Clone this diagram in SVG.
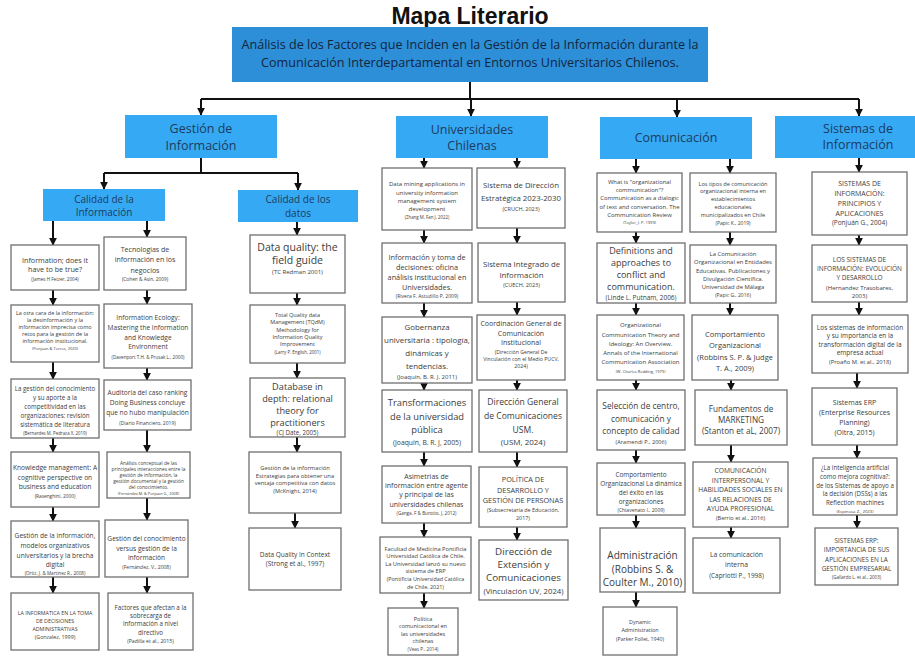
<svg xmlns="http://www.w3.org/2000/svg" width="915" height="656" viewBox="0 0 915 656">
<defs>
<style>
.box{fill:#fff;stroke:#6f6f6f;stroke-width:1.3}
.hdr{fill:#36a9f4}
.main{fill:#2c8fd8}
text{font-family:"Open Sans","Liberation Sans",sans-serif;text-anchor:middle;dominant-baseline:central;fill:#3c3c3c}
.ht{fill:#1d3b5e;font-size:12.5px}
.st{fill:#1d3b5e;font-size:10px}
.mt{fill:#14253d;font-size:12.6px}
.title{font-family:"Liberation Sans",Arial,sans-serif;font-weight:bold;font-size:23px;fill:#111}
#connectors path{fill:none;stroke:#111;stroke-width:2}
#connectors path.a{marker-end:url(#ah)}
</style>
<marker id="ah" viewBox="0 0 10 10" refX="9" refY="5" markerWidth="8" markerHeight="8" markerUnits="userSpaceOnUse" orient="auto"><path d="M0,0 L10,5 L0,10 z" fill="#111"/></marker>
</defs>
<rect width="915" height="656" fill="#fff"/>
<text class="title" x="470" y="16">Mapa Literario</text>

<g id="connectors">
<path d="M470,82 V99 M201,99 H859"/>
<path class="a" d="M201,99 V115"/>
<path class="a" d="M471,99 V116"/>
<path class="a" d="M677,99 V117"/>
<path class="a" d="M859,99 V116"/>
<path d="M201,158 V173 M104,173 H298"/>
<path class="a" d="M104,173 V189"/>
<path class="a" d="M298,173 V190"/>
<path class="a" d="M53,221 V245"/><path class="a" d="M53,290 V305"/><path class="a" d="M53,362 V379"/><path class="a" d="M53,438 V452"/><path class="a" d="M53,507 V521"/><path class="a" d="M53,577 V593"/>
<path class="a" d="M147,221 V237"/><path class="a" d="M147,290 V304"/><path class="a" d="M147,368 V380"/><path class="a" d="M147,430 V452"/><path class="a" d="M147,498 V520"/><path class="a" d="M147,577 V593"/>
<path class="a" d="M297,222 V235"/><path class="a" d="M297,293 V305"/><path class="a" d="M297,363 V378"/><path class="a" d="M297,437 V452"/><path class="a" d="M295,513 V528"/>
<path class="a" d="M424,158 V168"/><path class="a" d="M424,230 V243"/><path class="a" d="M424,303 V317"/><path class="a" d="M424,383 V390"/><path class="a" d="M424,452 V466"/><path class="a" d="M424,523 V537"/><path class="a" d="M424,593 V608"/>
<path class="a" d="M517,158 V168"/><path class="a" d="M517,228 V243"/><path class="a" d="M517,302 V315"/><path class="a" d="M517,380 V390"/><path class="a" d="M517,452 V467"/><path class="a" d="M517,527 V540"/>
<path class="a" d="M636,159 V173"/><path class="a" d="M636,232 V243"/><path class="a" d="M636,303 V315"/><path class="a" d="M636,380 V390"/><path class="a" d="M636,450 V463"/><path class="a" d="M636,515 V528"/><path class="a" d="M636,592 V607"/>
<path class="a" d="M730,159 V173"/><path class="a" d="M730,232 V245"/><path class="a" d="M730,303 V315"/><path class="a" d="M731,380 V390"/><path class="a" d="M731,445 V462"/><path class="a" d="M731,527 V538"/>
<path class="a" d="M859,158 V172"/><path class="a" d="M859,235 V245"/><path class="a" d="M859,302 V315"/><path class="a" d="M857,373 V388"/><path class="a" d="M857,445 V458"/><path class="a" d="M857,515 V528"/>
</g>

<g id="main"><rect class="main" x="232" y="27" width="476" height="55"/>
<text class="mt" x="470" y="44">Análisis de los Factores que Inciden en la Gestión de la Información durante la</text>
<text class="mt" x="470" y="62">Comunicación Interdepartamental en Entornos Universitarios Chilenos.</text></g>

<g id="h-gestion"><rect class="hdr" x="125" y="115" width="152" height="43"/><text class="ht" x="201" y="128">Gestión de</text><text class="ht" x="201" y="145">Información</text></g>
<g id="h-univ"><rect class="hdr" x="396" y="116" width="152" height="42"/><text class="ht" x="472" y="129">Universidades</text><text class="ht" x="472" y="145.5">Chilenas</text></g>
<g id="h-com"><rect class="hdr" x="600" y="117" width="152" height="42"/><text class="ht" x="676" y="137.5">Comunicación</text></g>
<g id="h-sis"><rect class="hdr" x="775" y="116" width="145" height="42"/><text class="ht" x="858" y="128">Sistemas de</text><text class="ht" x="858" y="144.5">Información</text></g>

<g id="h-calinfo"><rect class="hdr" x="43" y="189" width="122" height="32"/><text class="st" x="104" y="199">Calidad de la</text><text class="st" x="104" y="212">Información</text></g>
<g id="h-caldatos"><rect class="hdr" x="238" y="190" width="120" height="32"/><text class="st" x="298" y="199" font-size="10.3">Calidad de los</text><text class="st" x="298" y="212.5" font-size="10.3">datos</text></g>

<g id="l1"><rect class="box" x="11" y="245" width="88" height="45"/>
<text x="55" y="259.5" font-size="7.2">Information; does it</text><text x="55" y="269" font-size="7.2">have to be true?</text><text x="55" y="278.5" font-size="4.6">(James H Fetzer, 2004)</text></g>
<g id="l2"><rect class="box" x="11" y="305" width="88" height="57"/>
<text x="55" y="312.5" font-size="5.5">La otra cara de la información:</text><text x="55" y="319.6" font-size="5.5">la desinformación y la</text><text x="55" y="326.7" font-size="5.5">información imprecisa como</text><text x="55" y="333.8" font-size="5.5">retos para la gestión de la</text><text x="55" y="340.9" font-size="5.5">información institucional.</text><text x="55" y="348.2" font-size="4">(Ponjuan &amp; Torres, 2020)</text></g>
<g id="l3"><rect class="box" x="11" y="379" width="88" height="59"/>
<text x="55" y="388.5" font-size="6.2">La gestión del conocimiento</text><text x="55" y="397.5" font-size="6.2">y su aporte a la</text><text x="55" y="406.5" font-size="6.2">competitividad en las</text><text x="55" y="415.5" font-size="6.2">organizaciones: revisión</text><text x="55" y="424.5" font-size="6.2">sistemática de literatura</text><text x="55" y="432.5" font-size="4.4">(Bernardes M, Pedraza X, 2019)</text></g>
<g id="l4"><rect class="box" x="11" y="452" width="88" height="55"/>
<text x="55" y="467" font-size="6.6">Knowledge management: A</text><text x="55" y="477" font-size="6.6">cognitive perspective on</text><text x="55" y="486.5" font-size="6.6">business and education</text><text x="55" y="495.5" font-size="4.8">(Rasenghini, 2000)</text></g>
<g id="l5"><rect class="box" x="11" y="521" width="88" height="56"/>
<text x="55" y="535" font-size="6.6">Gestión de la información,</text><text x="55" y="545" font-size="6.6">modelos organizativos</text><text x="55" y="555" font-size="6.6">universitarios y la brecha</text><text x="55" y="564" font-size="6.6">digital</text><text x="55" y="573" font-size="4.6">(Ortiz, J. &amp; Martinez R., 2008)</text></g>
<g id="l6"><rect class="box" x="11" y="593" width="88" height="57"/>
<text x="55" y="613" font-size="5.3">LA INFORMATICA EN LA TOMA</text><text x="55" y="621" font-size="5.3">DE DECISIONES</text><text x="55" y="629" font-size="5.3">ADMINISTRATIVAS</text><text x="55" y="637" font-size="5.3">(Gonzalez, 1999)</text></g>

<g id="r1"><rect class="box" x="104" y="237" width="82" height="53"/>
<text x="145" y="249" font-size="7">Tecnologias de</text><text x="145" y="259.5" font-size="7">información en los</text><text x="145" y="270" font-size="7">negocios</text><text x="145" y="278.5" font-size="4.8">(Cohen &amp; Asin, 2009)</text></g>
<g id="r2"><rect class="box" x="104" y="304" width="88" height="64"/>
<text x="148" y="317" font-size="6.6">Information Ecology:</text><text x="148" y="327" font-size="6.6">Mastering the Information</text><text x="148" y="337" font-size="6.6">and Knowledge</text><text x="148" y="346.5" font-size="6.6">Environment</text><text x="148" y="356.5" font-size="4.6">(Davenport T.H. &amp; Prusak L., 2000)</text></g>
<g id="r3"><rect class="box" x="104" y="380" width="87" height="50"/>
<text x="147.5" y="392" font-size="6.6">Auditoria del caso ranking</text><text x="147.5" y="402" font-size="6.6">Doing Business concluye</text><text x="147.5" y="412" font-size="6.6">que no hubo manipulación</text><text x="147.5" y="423" font-size="5">(Diario Financiero, 2019)</text></g>
<g id="r4"><rect class="box" x="107" y="452" width="83" height="46"/>
<text x="148.5" y="462.5" font-size="4.8">Análisis conceptual de las</text><text x="148.5" y="468.7" font-size="4.8">principales interacciones entre la</text><text x="148.5" y="474.9" font-size="4.8">gestión de información, la</text><text x="148.5" y="481.1" font-size="4.8">gestión documental y la gestión</text><text x="148.5" y="487.3" font-size="4.8">del conocimiento.</text><text x="148.5" y="493.5" font-size="3.8">(Fernández M. &amp; Ponjuan G., 2008)</text></g>
<g id="r5"><rect class="box" x="105" y="520" width="83" height="57"/>
<text x="146.5" y="538.5" font-size="6.6">Gestión del conocimiento</text><text x="146.5" y="548.5" font-size="6.6">versus gestión de la</text><text x="146.5" y="557.5" font-size="6.6">información</text><text x="146.5" y="567" font-size="5">(Fernández, V., 2008)</text></g>
<g id="r6"><rect class="box" x="108" y="593" width="85" height="57"/>
<text x="150.5" y="607" font-size="6.2">Factores que afectan a la</text><text x="150.5" y="615.3" font-size="6.2">sobrecarga de</text><text x="150.5" y="623.6" font-size="6.2">información a nivel</text><text x="150.5" y="632" font-size="6.2">directivo</text><text x="150.5" y="641" font-size="5.2">(Padilla et al., 2015)</text></g>

<g id="d1"><rect class="box" x="250" y="235" width="95" height="58"/>
<text x="297.5" y="246.5" font-size="10.5">Data quality: the</text><text x="297.5" y="260" font-size="10.5">field guide</text><text x="297.5" y="272" font-size="6">(TC Redman 2001)</text></g>
<g id="d2"><rect class="box" x="250" y="305" width="95" height="58"/>
<text x="297.5" y="315" font-size="5.5">Total Quality data</text><text x="297.5" y="322.3" font-size="5.5">Management (TQdM)</text><text x="297.5" y="329.6" font-size="5.5">Methodology for</text><text x="297.5" y="336.9" font-size="5.5">Information Quality</text><text x="297.5" y="344.2" font-size="5.5">Improvement</text><text x="297.5" y="351.7" font-size="4.4">(Larry P. English, 2001)</text></g>
<g id="d3"><rect class="box" x="250" y="378" width="95" height="59"/>
<text x="297.5" y="386.5" font-size="9.2">Database in</text><text x="297.5" y="398.5" font-size="9.2">depth: relational</text><text x="297.5" y="410.5" font-size="9.2">theory for</text><text x="297.5" y="422.5" font-size="9.2">practitioners</text><text x="297.5" y="432.5" font-size="6.2">(CJ Date, 2005)</text></g>
<g id="d4"><rect class="box" x="249" y="452" width="92" height="61"/>
<text x="295" y="468" font-size="5.8">Gestión de la información</text><text x="295" y="475.5" font-size="5.8">Estrategias para obtener una</text><text x="295" y="483" font-size="5.8">ventaja competitiva con datos</text><text x="295" y="491" font-size="5.6">(McKnight, 2014)</text></g>
<g id="d5"><rect class="box" x="249" y="528" width="92" height="62"/>
<text x="295" y="554" font-size="6.5">Data Quality In Context</text><text x="295" y="563" font-size="6.5">(Strong et al., 1997)</text></g>

<g id="ul1"><rect class="box" x="382" y="168" width="90" height="62"/>
<text x="427" y="184" font-size="6">Data mining applications in</text><text x="427" y="192.5" font-size="6">university information</text><text x="427" y="200.5" font-size="6">management system</text><text x="427" y="208.5" font-size="6">development</text><text x="427" y="217" font-size="4.4">(Zhang M, Fan J, 2022)</text></g>
<g id="ul2"><rect class="box" x="382" y="243" width="90" height="60"/>
<text x="427" y="257" font-size="7.3">Información y toma de</text><text x="427" y="267" font-size="7.3">decisiones: oficina</text><text x="427" y="277" font-size="7.3">análisis institucional en</text><text x="427" y="287" font-size="7.3">Universidades.</text><text x="427" y="296" font-size="5">(Rivera F, Astudillo P, 2009)</text></g>
<g id="ul3"><rect class="box" x="382" y="317" width="90" height="66"/>
<text x="427" y="327" font-size="7.9">Gobernanza</text><text x="427" y="340" font-size="7.9">universitaria : tipología,</text><text x="427" y="353" font-size="7.9">dinámicas y</text><text x="427" y="366" font-size="7.9">tendencias.</text><text x="427" y="376.5" font-size="6">(Joaquín, B. R. J, 2011)</text></g>
<g id="ul4"><rect class="box" x="382" y="390" width="90" height="62"/>
<text x="427" y="402" font-size="9.3">Transformaciones</text><text x="427" y="416" font-size="9.3">de la universidad</text><text x="427" y="429.5" font-size="9.3">pública</text><text x="427" y="442.5" font-size="6.8">(Joaquín, B. R. J, 2005)</text></g>
<g id="ul5"><rect class="box" x="382" y="466" width="89" height="57"/>
<text x="426.5" y="476.5" font-size="7">Asimetrias de</text><text x="426.5" y="485.7" font-size="7">información entre agente</text><text x="426.5" y="494.9" font-size="7">y principal de las</text><text x="426.5" y="504.1" font-size="7">universidades chilenas</text><text x="426.5" y="513" font-size="4.6">(Ganga, F &amp; Burotto, J, 2012)</text></g>
<g id="ul6"><rect class="box" x="380" y="537" width="91" height="56"/>
<text x="425.5" y="548.5" font-size="5.7">Facultad de Medicina Pontificia</text><text x="425.5" y="556" font-size="5.7">Universidad Católica de Chile.</text><text x="425.5" y="563.5" font-size="5.7">La Universidad lanzó su nuevo</text><text x="425.5" y="571.2" font-size="5.7">sistema de ERP</text><text x="425.5" y="579.2" font-size="5.4">(Pontificia Universidad Católica</text><text x="425.5" y="586.8" font-size="5.4">de Chile, 2021)</text></g>
<g id="ul7"><rect class="box" x="388" y="608" width="70" height="47"/>
<text x="423" y="618.5" font-size="5.5">Política</text><text x="423" y="626" font-size="5.5">comunicacional en</text><text x="423" y="633.5" font-size="5.5">las universidades</text><text x="423" y="641" font-size="5.5">chilenas</text><text x="423" y="648.5" font-size="4.6">(Veas P., 2014)</text></g>

<g id="ur1"><rect class="box" x="477" y="168" width="88" height="60"/>
<text x="521" y="185" font-size="7.8">Sistema de Dirección</text><text x="521" y="197.5" font-size="7.8">Estratégica 2023-2030</text><text x="521" y="208.5" font-size="5.5">(CRUCH, 2023)</text></g>
<g id="ur2"><rect class="box" x="478" y="243" width="87" height="59"/>
<text x="521.5" y="263.5" font-size="7.8">Sistema Integrado de</text><text x="521.5" y="275" font-size="7.8">Información</text><text x="521.5" y="285" font-size="5.5">(CUECH, 2023)</text></g>
<g id="ur3"><rect class="box" x="477" y="315" width="88" height="65"/>
<text x="521" y="323.5" font-size="7">Coordinación General de</text><text x="521" y="333" font-size="7">Comunicación</text><text x="521" y="342.5" font-size="7">Institucional</text><text x="521" y="352" font-size="5.2">(Dirección General De</text><text x="521" y="359" font-size="5.2">Vinculación con el Medio PUCV,</text><text x="521" y="366" font-size="5.2">2024)</text></g>
<g id="ur4"><rect class="box" x="479" y="390" width="88" height="62"/>
<text x="523" y="402" font-size="8.6">Dirección General</text><text x="523" y="416" font-size="8.6">de Comunicaciones</text><text x="523" y="429.5" font-size="8.6">USM.</text><text x="523" y="441" font-size="8">(USM, 2024)</text></g>
<g id="ur5"><rect class="box" x="479" y="467" width="88" height="60"/>
<text x="523" y="478.5" font-size="7.3">POLÍTICA DE</text><text x="523" y="489.5" font-size="7.3">DESARROLLO Y</text><text x="523" y="500" font-size="7.3">GESTIÓN DE PERSONAS</text><text x="523" y="510" font-size="5.4">(Subsecretaría de Educación,</text><text x="523" y="517.5" font-size="5.4">2017)</text></g>
<g id="ur6"><rect class="box" x="479" y="540" width="89" height="60"/>
<text x="523.5" y="551.5" font-size="9.8">Dirección de</text><text x="523.5" y="564.7" font-size="9.8">Extensión y</text><text x="523.5" y="577.9" font-size="9.8">Comunicaciones</text><text x="523.5" y="590.5" font-size="7.8">(Vinculación UV, 2024)</text></g>

<g id="cl1"><rect class="box" x="597" y="173" width="85" height="59"/>
<text x="639.5" y="182" font-size="5.9">What is "organizational</text><text x="639.5" y="190" font-size="5.9">communication"?</text><text x="639.5" y="198.3" font-size="5.9">Communication as a dialogic</text><text x="639.5" y="206.5" font-size="5.9">of text and conversation. The</text><text x="639.5" y="214.6" font-size="5.9">Communication Review</text><text x="639.5" y="222.3" font-size="4">(Taylor, J. P. 1999)</text></g>
<g id="cl2"><rect class="box" x="597" y="243" width="88" height="60"/>
<text x="641" y="250.5" font-size="9">Definitions and</text><text x="641" y="262.5" font-size="9">approaches to</text><text x="641" y="274.5" font-size="9">conflict and</text><text x="641" y="286.5" font-size="9">communication.</text><text x="641" y="297.5" font-size="6.5">(Linde L. Putnam, 2006)</text></g>
<g id="cl3"><rect class="box" x="597" y="315" width="87" height="65"/>
<text x="640.5" y="325" font-size="6">Organizational</text><text x="640.5" y="334.5" font-size="6">Communication Theory and</text><text x="640.5" y="344" font-size="6">Ideology: An Overview.</text><text x="640.5" y="353" font-size="6">Annals of the International</text><text x="640.5" y="362" font-size="6">Communication Association</text><text x="640.5" y="371" font-size="4">(W. Charles Redding, 1979)</text></g>
<g id="cl4"><rect class="box" x="597" y="390" width="88" height="60"/>
<text x="641" y="405" font-size="8.3">Selección de centro,</text><text x="641" y="418" font-size="8.3">comunicación y</text><text x="641" y="430.5" font-size="8.3">concepto de calidad</text><text x="641" y="441.5" font-size="5.6">(Aramendi P., 2006)</text></g>
<g id="cl5"><rect class="box" x="597" y="463" width="88" height="52"/>
<text x="641" y="474.5" font-size="6.4">Comportamiento</text><text x="641" y="483.5" font-size="6.4">Organizacional La dinámica</text><text x="641" y="492.5" font-size="6.4">del éxito en las</text><text x="641" y="501.5" font-size="6.4">organizaciones</text><text x="641" y="510" font-size="5">(Chiavenato I., 2009)</text></g>
<g id="cl6"><rect class="box" x="600" y="528" width="85" height="64"/>
<text x="642.5" y="555" font-size="10">Administración</text><text x="642.5" y="568.5" font-size="10">(Robbins S. &amp;</text><text x="642.5" y="582" font-size="10">Coulter M., 2010)</text></g>
<g id="cl7"><rect class="box" x="603" y="607" width="74" height="48"/>
<text x="640" y="622" font-size="5.4">Dynamic</text><text x="640" y="630" font-size="5.4">Administration</text><text x="640" y="639" font-size="5.2">(Parker Follet, 1940)</text></g>

<g id="cr1"><rect class="box" x="690" y="173" width="86" height="59"/>
<text x="733" y="183.5" font-size="5.6">Los tipos de comunicación</text><text x="733" y="191.2" font-size="5.6">organizacional interna en</text><text x="733" y="199" font-size="5.6">establecimientos</text><text x="733" y="206.8" font-size="5.6">educacionales</text><text x="733" y="214.6" font-size="5.6">municipalizados en Chile</text><text x="733" y="222.5" font-size="5">(Papic K., 2019)</text></g>
<g id="cr2"><rect class="box" x="690" y="245" width="86" height="58"/>
<text x="733" y="254" font-size="5.9">La Comunicación</text><text x="733" y="262.3" font-size="5.9">Organizacional en Entidades</text><text x="733" y="270.6" font-size="5.9">Educativas. Publicaciones y</text><text x="733" y="278.9" font-size="5.9">Divulgación Científica.</text><text x="733" y="287.2" font-size="5.9">Universidad de Málaga</text><text x="733" y="295.2" font-size="5">(Papic G., 2016)</text></g>
<g id="cr3"><rect class="box" x="692" y="315" width="86" height="65"/>
<text x="735" y="333.5" font-size="7.5">Comportamiento</text><text x="735" y="345" font-size="7.5">Organizacional</text><text x="735" y="356.5" font-size="7.5">(Robbins S. P. &amp; Judge</text><text x="735" y="367.5" font-size="7.5">T. A., 2009)</text></g>
<g id="cr4"><rect class="box" x="695" y="390" width="92" height="55"/>
<text x="741" y="408.5" font-size="8.2">Fundamentos de</text><text x="741" y="419.5" font-size="8.2">MARKETING</text><text x="741" y="430.5" font-size="8.2">(Stanton et aL, 2007)</text></g>
<g id="cr5"><rect class="box" x="693" y="462" width="95" height="65"/>
<text x="740.5" y="470.5" font-size="6.7">COMUNICACIÓN</text><text x="740.5" y="480" font-size="6.7">INTERPERSONAL Y</text><text x="740.5" y="489.5" font-size="6.7">HABILIDADES SOCIALES EN</text><text x="740.5" y="499" font-size="6.7">LAS RELACIONES DE</text><text x="740.5" y="508.5" font-size="6.7">AYUDA PROFESIONAL</text><text x="740.5" y="517.5" font-size="5.6">(Berrio et al., 2016)</text></g>
<g id="cr6"><rect class="box" x="693" y="538" width="87" height="55"/>
<text x="736.5" y="554" font-size="6.8">La comunicación</text><text x="736.5" y="564.5" font-size="6.8">interna</text><text x="736.5" y="575" font-size="6.4">(Capriotti P., 1998)</text></g>

<g id="s1"><rect class="box" x="812" y="172" width="95" height="63"/>
<text x="859.5" y="183" font-size="7">SISTEMAS DE</text><text x="859.5" y="193" font-size="7">INFORMACIÓN:</text><text x="859.5" y="203" font-size="7">PRINCIPIOS Y</text><text x="859.5" y="213" font-size="7">APLICACIONES</text><text x="859.5" y="222.5" font-size="6.5">(Ponjuán G., 2004)</text></g>
<g id="s2"><rect class="box" x="812" y="245" width="95" height="57"/>
<text x="859.5" y="259.5" font-size="6.5">LOS SISTEMAS DE</text><text x="859.5" y="268.5" font-size="6.5">INFORMACIÓN: EVOLUCIÓN</text><text x="859.5" y="277.5" font-size="6.5">Y DESARROLLO</text><text x="859.5" y="287.5" font-size="6">(Hernandez Trasobares,</text><text x="859.5" y="296" font-size="6">2003)</text></g>
<g id="s3"><rect class="box" x="812" y="315" width="96" height="58"/>
<text x="860" y="327" font-size="6.5">Los sistemas de información</text><text x="860" y="335.5" font-size="6.5">y su importancia en la</text><text x="860" y="344" font-size="6.5">transformación digital de la</text><text x="860" y="352.5" font-size="6.5">empresa actual</text><text x="860" y="361.5" font-size="5.8">(Proaño M. et al., 2018)</text></g>
<g id="s4"><rect class="box" x="812" y="388" width="85" height="57"/>
<text x="854.5" y="402" font-size="7">Sistemas ERP</text><text x="854.5" y="412.3" font-size="7">(Enterprise Resources</text><text x="854.5" y="422.6" font-size="7">Planning)</text><text x="854.5" y="432.9" font-size="7">(Oltra, 2015)</text></g>
<g id="s5"><rect class="box" x="813" y="458" width="84" height="57"/>
<text x="855" y="467.5" font-size="6.2">¿La inteligencia artificial</text><text x="855" y="476.3" font-size="6.2">como mejora cognitiva?:</text><text x="855" y="485.1" font-size="6.2">de los Sistemas de apoyo a</text><text x="855" y="493.9" font-size="6.2">la decisión (DSSs) a las</text><text x="855" y="502.7" font-size="6.2">Reflection machines</text><text x="855" y="511.3" font-size="4.3">(Espinosa Z., 2023)</text></g>
<g id="s6"><rect class="box" x="815" y="528" width="83" height="57"/>
<text x="856.5" y="540" font-size="6.4">SISTEMAS ERP:</text><text x="856.5" y="549.5" font-size="6.4">IMPORTANCIA DE SUS</text><text x="856.5" y="559" font-size="6.4">APLICACIONES EN LA</text><text x="856.5" y="568.5" font-size="6.4">GESTIÓN EMPRESARIAL</text><text x="856.5" y="577.3" font-size="4.5">(Gallardo L. et al., 2003)</text></g>
</svg>
